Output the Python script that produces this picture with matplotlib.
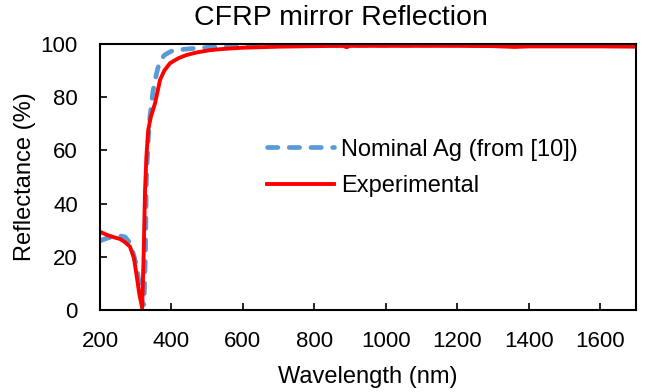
import matplotlib.pyplot as plt

plt.rcParams['font.family'] = ['Liberation Sans', 'DejaVu Sans']

# Nominal Ag reflectance (from [10])
wl_nom = [200, 220, 250, 270, 285, 300, 310, 318, 323, 327, 330, 335, 340, 348, 355,
          362, 370, 380, 390, 400, 420, 450, 500, 600, 700, 800, 1000, 1200, 1400, 1600, 1700]
r_nom = [26, 27, 28, 27.5, 25, 18, 10, 3, 2, 20, 50, 64, 73, 82, 87,
         91, 94, 95.8, 96.6, 97.3, 97.8, 98.2, 98.7, 99.2, 99.4, 99.5, 99.6, 99.7, 99.7, 99.7, 99.7]

# Experimental
wl_exp = [200, 220, 240, 256, 270, 284, 295, 303, 310, 318, 322, 326, 330, 335, 342,
          354, 368, 380, 396, 420, 443, 470, 508, 550, 600, 700, 800, 880, 890, 900,
          1000, 1100, 1200, 1300, 1360, 1380, 1400, 1500, 1600, 1700]
r_exp = [29.4, 28.2, 27.3, 26.7, 25.5, 23.8, 19.5, 12.5, 6, 0.8, 20, 45, 58, 67.7, 72.5,
         77.7, 86.5, 90, 92.8, 94.7, 95.9, 96.8, 97.7, 98.2, 98.6, 99.0, 99.2, 99.3, 98.8, 99.3,
         99.3, 99.3, 99.3, 99.2, 98.9, 99.0, 99.1, 99.1, 99.1, 99.0]

fig = plt.figure(figsize=(6.56, 3.92), dpi=100)
ax = fig.add_axes([100 / 656, 82 / 392, 536 / 656, 266 / 392])

ax.plot(wl_nom, r_nom, color='#5B9BD5', lw=3.4, ls=(0, (2.2, 2.4)),
        dash_capstyle='round', label='Nominal Ag (from [10])')
ax.plot(wl_exp, r_exp, color='#FF0000', lw=2.8, label='Experimental')

ax.set_xlim(200, 1700)
ax.set_ylim(0, 100)
ax.set_xticks(range(200, 1700, 200))
ax.set_yticks(range(0, 101, 20))
ax.tick_params(direction='in', length=5, width=1.2, labelsize=16)
ax.tick_params(axis='x', pad=15)
ax.tick_params(axis='y', pad=16)
for s in ax.spines.values():
    s.set_linewidth(1.5)

# title sits a bit left of the axes centre in the original
fig.text(341 / 656, 1 - 25 / 392, 'CFRP mirror Reflection', fontsize=20.5,
         ha='center', va='baseline')
ax.set_xlabel('Wavelength (nm)', fontsize=17, labelpad=10)
ax.set_ylabel('Reflectance (%)', fontsize=17, labelpad=3)

ax.legend(loc='center left', bbox_to_anchor=(0.272, 0.535), frameon=False,
          fontsize=17, handlelength=2.85, handletextpad=0.3, labelspacing=0.6)

fig.savefig('out.png', dpi=100)
